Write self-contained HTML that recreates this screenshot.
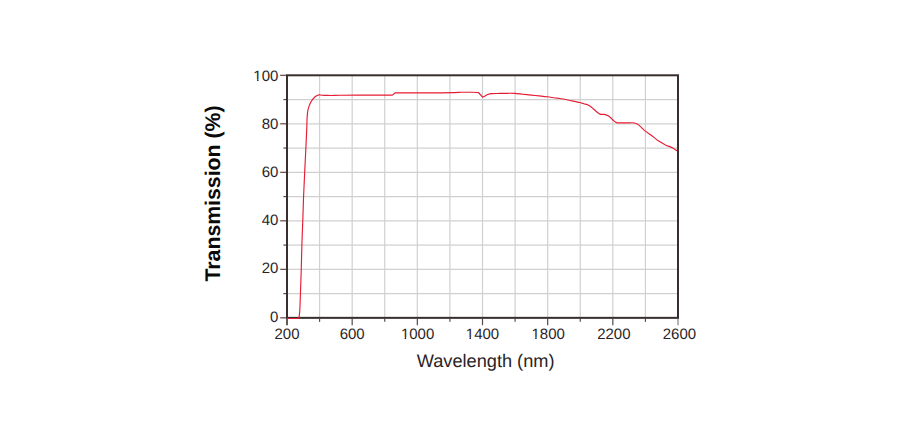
<!DOCTYPE html>
<html><head><meta charset="utf-8"><style>
html,body{margin:0;padding:0;background:#fff;}
body{width:924px;height:440px;overflow:hidden;}
svg{display:block;}
text{font-family:"Liberation Sans",Arial,sans-serif;fill:#2a2324;text-rendering:geometricPrecision;}
</style></head><body>
<svg width="924" height="440" viewBox="0 0 924 440">
<rect width="924" height="440" fill="#fff"/>
<g stroke="#d0d0d0" stroke-width="1.2" fill="none">
<line x1="319.58" y1="75.30" x2="319.58" y2="317.85"/>
<line x1="352.17" y1="75.30" x2="352.17" y2="317.85"/>
<line x1="384.75" y1="75.30" x2="384.75" y2="317.85"/>
<line x1="417.33" y1="75.30" x2="417.33" y2="317.85"/>
<line x1="449.92" y1="75.30" x2="449.92" y2="317.85"/>
<line x1="482.50" y1="75.30" x2="482.50" y2="317.85"/>
<line x1="515.08" y1="75.30" x2="515.08" y2="317.85"/>
<line x1="547.67" y1="75.30" x2="547.67" y2="317.85"/>
<line x1="580.25" y1="75.30" x2="580.25" y2="317.85"/>
<line x1="612.83" y1="75.30" x2="612.83" y2="317.85"/>
<line x1="645.42" y1="75.30" x2="645.42" y2="317.85"/>
<line x1="287.00" y1="293.60" x2="678.00" y2="293.60"/>
<line x1="287.00" y1="269.34" x2="678.00" y2="269.34"/>
<line x1="287.00" y1="245.09" x2="678.00" y2="245.09"/>
<line x1="287.00" y1="220.83" x2="678.00" y2="220.83"/>
<line x1="287.00" y1="196.58" x2="678.00" y2="196.58"/>
<line x1="287.00" y1="172.32" x2="678.00" y2="172.32"/>
<line x1="287.00" y1="148.07" x2="678.00" y2="148.07"/>
<line x1="287.00" y1="123.81" x2="678.00" y2="123.81"/>
<line x1="287.00" y1="99.56" x2="678.00" y2="99.56"/>
</g>
<g stroke="#5e4446" stroke-width="1.2" fill="none">
<line x1="280.20" y1="317.85" x2="287.00" y2="317.85"/>
<line x1="283.40" y1="293.60" x2="287.00" y2="293.60"/>
<line x1="280.20" y1="269.34" x2="287.00" y2="269.34"/>
<line x1="283.40" y1="245.09" x2="287.00" y2="245.09"/>
<line x1="280.20" y1="220.83" x2="287.00" y2="220.83"/>
<line x1="283.40" y1="196.58" x2="287.00" y2="196.58"/>
<line x1="280.20" y1="172.32" x2="287.00" y2="172.32"/>
<line x1="283.40" y1="148.07" x2="287.00" y2="148.07"/>
<line x1="280.20" y1="123.81" x2="287.00" y2="123.81"/>
<line x1="283.40" y1="99.56" x2="287.00" y2="99.56"/>
<line x1="280.20" y1="75.30" x2="287.00" y2="75.30"/>
<line x1="319.58" y1="318.85" x2="319.58" y2="321.85" stroke="#544a4a"/>
<line x1="352.17" y1="318.85" x2="352.17" y2="325.25" stroke="#544a4a"/>
<line x1="384.75" y1="318.85" x2="384.75" y2="321.85" stroke="#544a4a"/>
<line x1="417.33" y1="318.85" x2="417.33" y2="325.25" stroke="#544a4a"/>
<line x1="449.92" y1="318.85" x2="449.92" y2="321.85" stroke="#544a4a"/>
<line x1="482.50" y1="318.85" x2="482.50" y2="325.25" stroke="#544a4a"/>
<line x1="515.08" y1="318.85" x2="515.08" y2="321.85" stroke="#544a4a"/>
<line x1="547.67" y1="318.85" x2="547.67" y2="325.25" stroke="#544a4a"/>
<line x1="580.25" y1="318.85" x2="580.25" y2="321.85" stroke="#544a4a"/>
<line x1="612.83" y1="318.85" x2="612.83" y2="325.25" stroke="#544a4a"/>
<line x1="645.42" y1="318.85" x2="645.42" y2="321.85" stroke="#544a4a"/>
<line x1="678.00" y1="318.85" x2="678.00" y2="325.25" stroke="#8a8484"/>
</g>
<rect x="287.00" y="75.30" width="391.00" height="242.55" fill="none" stroke="#382e2e" stroke-width="2"/>
<line x1="287" y1="318" x2="287" y2="325.2" stroke="#3a3232" stroke-width="1.6"/>
<path d="M287.00,318.50 L297.90,318.50 C298.10,318.25 298.78,318.42 299.10,317.00 C299.42,315.58 299.58,313.93 299.80,310.00 C300.02,306.07 300.27,298.40 300.45,293.40 C300.63,288.40 300.76,284.13 300.90,280.00 C301.04,275.87 301.13,274.50 301.30,268.60 C301.47,262.70 301.65,252.70 301.90,244.60 C302.15,236.50 302.57,226.60 302.80,220.00 C303.03,213.40 303.17,209.00 303.30,205.00 C303.43,201.00 303.37,201.53 303.60,196.00 C303.83,190.47 304.32,179.87 304.70,171.80 C305.08,163.73 305.57,154.57 305.90,147.60 C306.23,140.63 306.53,134.05 306.70,130.00 C306.87,125.95 306.82,125.53 306.90,123.30 C306.98,121.07 307.05,118.67 307.20,116.60 C307.35,114.53 307.48,112.65 307.80,110.90 C308.12,109.15 308.57,107.62 309.10,106.10 C309.63,104.58 310.28,103.07 311.00,101.80 C311.72,100.53 312.53,99.45 313.40,98.50 C314.27,97.55 315.25,96.70 316.20,96.10 C317.15,95.50 318.13,95.05 319.10,94.90 C320.07,94.75 320.85,95.12 322.00,95.20 C323.15,95.28 324.40,95.30 326.00,95.35 C327.60,95.40 329.27,95.53 331.60,95.50 C333.93,95.47 335.27,95.27 340.00,95.20 C344.73,95.13 351.27,95.12 360.00,95.10 C368.73,95.08 387.00,95.10 392.40,95.10 L395.30,92.80 C396.08,92.80 392.55,92.80 400.00,92.80 C407.45,92.80 430.83,92.83 440.00,92.80 C449.17,92.77 451.42,92.68 455.00,92.60 C458.58,92.52 458.67,92.35 461.50,92.30 C464.33,92.25 469.18,92.27 472.00,92.30 C474.82,92.33 477.33,92.47 478.40,92.50 L482.60,97.20 C483.08,96.95 484.65,96.15 485.50,95.70 C486.35,95.25 486.68,94.85 487.70,94.50 C488.72,94.15 489.97,93.77 491.60,93.60 C493.23,93.42 495.77,93.48 497.50,93.45 C499.23,93.42 500.25,93.43 502.00,93.40 C503.75,93.38 505.85,93.30 508.00,93.30 C510.15,93.30 512.45,93.25 514.90,93.40 C517.35,93.55 519.98,93.92 522.70,94.20 C525.42,94.48 528.48,94.82 531.20,95.10 C533.92,95.38 536.30,95.62 539.00,95.90 C541.70,96.18 544.70,96.45 547.40,96.80 C550.10,97.15 553.10,97.72 555.20,98.00 C557.30,98.28 557.50,98.08 560.00,98.50 C562.50,98.92 566.90,99.83 570.20,100.50 C573.50,101.17 577.52,101.97 579.80,102.50 C582.08,103.03 582.43,103.25 583.90,103.70 C585.37,104.15 587.25,104.55 588.60,105.20 C589.95,105.85 590.87,106.68 592.00,107.60 C593.13,108.52 594.25,109.72 595.40,110.70 C596.55,111.68 597.98,112.88 598.90,113.50 C599.82,114.12 600.00,114.25 600.90,114.40 C601.80,114.55 603.17,114.22 604.30,114.40 C605.43,114.58 606.68,114.98 607.70,115.50 C608.72,116.02 609.37,116.60 610.40,117.50 C611.43,118.40 612.87,120.05 613.90,120.90 C614.93,121.75 615.58,122.27 616.60,122.60 C617.62,122.93 618.22,122.85 620.00,122.90 C621.78,122.95 625.18,122.92 627.30,122.90 C629.42,122.88 631.25,122.70 632.70,122.80 C634.15,122.90 635.08,123.20 636.00,123.50 C636.92,123.80 637.28,123.92 638.20,124.60 C639.12,125.28 640.37,126.55 641.50,127.60 C642.63,128.65 643.28,129.53 645.00,130.90 C646.72,132.27 649.52,134.10 651.80,135.80 C654.08,137.50 656.42,139.58 658.70,141.10 C660.98,142.62 663.23,143.78 665.50,144.90 C667.77,146.02 670.38,146.80 672.30,147.80 C674.22,148.80 676.22,150.38 677.00,150.90" fill="none" stroke="#e61c34" stroke-width="1.15" stroke-linejoin="round"/>
<g font-size="15">
<text x="278.4" y="80.55" text-anchor="end">100</text>
<text x="278.4" y="128.75" text-anchor="end">80</text>
<text x="278.4" y="176.95" text-anchor="end">60</text>
<text x="278.4" y="225.15" text-anchor="end">40</text>
<text x="278.4" y="273.35" text-anchor="end">20</text>
<text x="278.4" y="321.55" text-anchor="end">0</text>
<text x="287.00" y="338.7" text-anchor="middle">200</text>
<text x="352.17" y="338.7" text-anchor="middle">600</text>
<text x="417.63" y="338.7" text-anchor="middle">1000</text>
<text x="482.50" y="338.7" text-anchor="middle">1400</text>
<text x="548.17" y="338.7" text-anchor="middle">1800</text>
<text x="613.83" y="338.7" text-anchor="middle">2200</text>
<text x="679.40" y="338.7" text-anchor="middle">2600</text>
</g>
<g fill="#fff">
<rect x="401.49" y="337.33" width="3.15" height="1.9"/>
<rect x="406.13" y="337.33" width="3.11" height="1.9"/>
<rect x="466.36" y="337.33" width="3.15" height="1.9"/>
<rect x="470.99" y="337.33" width="3.11" height="1.9"/>
<rect x="532.02" y="337.33" width="3.15" height="1.9"/>
<rect x="536.66" y="337.33" width="3.11" height="1.9"/>
<rect x="253.92" y="79.18" width="3.15" height="1.9"/>
<rect x="258.55" y="79.18" width="3.11" height="1.9"/>
</g>
<text x="485.6" y="366.8" font-size="18.2" text-anchor="middle">Wavelength (nm)</text>
<text transform="translate(220,193.5) rotate(-90)" font-size="21.25" font-weight="bold" text-anchor="middle" style="fill:#0a0a0a">Transmission (%)</text>
</svg>
</body></html>
